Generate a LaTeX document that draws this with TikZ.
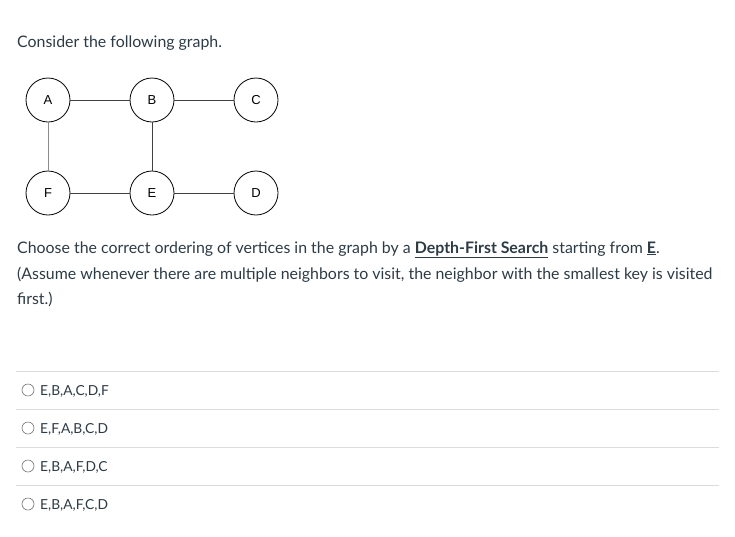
\documentclass[tikz,border=0pt]{standalone}
\usepackage{fontspec}
\setmainfont{Lato}
\newfontfamily\labelfont{Liberation Sans}
\usepackage{xcolor}
\usetikzlibrary{positioning}
\definecolor{canvastext}{HTML}{2D3B45}
\definecolor{rulegray}{HTML}{DCDCDC}

\begin{document}
\begin{tikzpicture}[x=1pt,y=-1pt,
  vertex/.style={draw=black,circle,minimum size=44pt,inner sep=0pt,font=\labelfont\fontsize{13}{15}\selectfont,line width=.8pt},
  edge/.style={draw=black!75,line width=.7pt},
  txt/.style={anchor=base west,inner sep=0pt,text=canvastext,font=\fontsize{15.9}{19}\selectfont},
  opt/.style={anchor=base west,inner sep=0pt,text=canvastext,font=\fontsize{13.8}{16}\selectfont},
  radio/.style={draw=black!55,circle,minimum size=12pt,inner sep=0pt,line width=.6pt}]
  \useasboundingbox (0,0) rectangle (735,536);
  \node[txt] (title) at (17,47) {Consider the following graph.};
  % the graph
  \node[vertex] (A) at (48,100) {A};
  \node[vertex] (B) at (152,100) {B};
  \node[vertex] (C) at (256,100) {C};
  \node[vertex] (F) at (48,193) {F};
  \node[vertex] (E) at (152,193) {E};
  \node[vertex] (D) at (256,193) {D};
  \draw[edge] (A) -- (B);
  \draw[edge] (B) -- (C);
  \draw[edge,draw=black!45] (A) -- (F);
  \draw[edge] (B) -- (E);
  \draw[edge] (F) -- (E);
  \draw[edge] (E) -- (D);
  % question
  \node[txt] (q1) at (17,253) {Choose the correct ordering of vertices in the graph by a \textbf{\underline{Depth-First Search}} starting from \textbf{\underline{E}}.};
  \node[txt] (q2) at (17,279) {(Assume whenever there are multiple neighbors to visit, the neighbor with the smallest key is visited};
  \node[txt] (q3) at (17,304) {first.)};
  % answers
  \foreach \y/\ans [count=\i] in {371/{E,B,A,C,D,F},409/{E,F,A,B,C,D},447/{E,B,A,F,D,C},485/{E,B,A,F,C,D}}{
    \coordinate (l\i) at (16,\y);
    \coordinate (r\i) at (719,\y);
    \draw[rulegray,line width=.8pt] (l\i) -- (r\i);
    \node[radio] (rb\i) at (28,\y+19) {};
    \node[opt] (a\i) at (40,\y+24) {\ans};
  }
\end{tikzpicture}
\end{document}
